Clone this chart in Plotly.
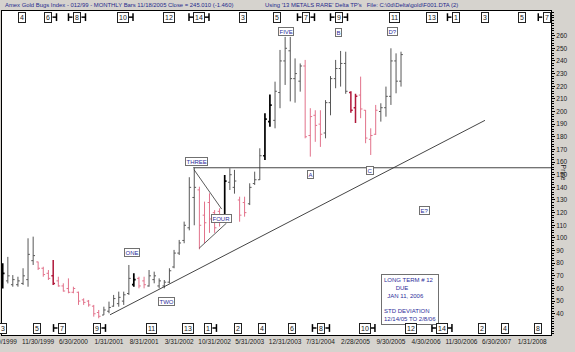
import pandas as pd
import plotly.graph_objects as go

# ---------------- data ----------------
start_month = "1999-04-30"          # first monthly bar (month-end)
open_ = [64, 66, 63, 63, 64, 67, 82, 81, 76, 72,
         70, 66, 62, 60, 57, 57, 51, 50, 46, 41,
         39, 42, 46, 48, 50, 56, 63, 68, 66, 62,
         67, 62, 62, 65, 77, 88, 98, 108, 132, 138,
         118, 128, 120, 121, 116, 144, 140, 130, 128, 127,
         143, 146, 165, 192, 193, 215, 240, 248, 226, 224,
         236, 181, 197, 190, 183, 207, 226, 234, 238, 215,
         203, 213, 201, 178, 182, 200, 203, 212, 240, 224]
high = [80, 85, 70.6, 69.3, 76, 99.7, 101, 81.2, 77.2, 74.6,
        82.5, 69.3, 64.1, 68, 61.4, 57.5, 52.2, 50.9, 47, 43,
        45.6, 49.6, 54.9, 57.5, 57.5, 78.6, 72, 69.3, 69.3, 74.6,
        73.3, 68, 66.7, 76, 90.5, 98.4, 112.9, 148, 155.5, 140.5,
        128.7, 135.3, 122, 123.4, 149.8, 155.1, 153.8, 132.6, 132.6, 143.2,
        152.4, 170.9, 198.6, 213.5, 223.6, 248.7, 259, 259, 242, 238,
        240.8, 202.6, 201, 201, 209, 228, 240.8, 247.9, 247.3, 216,
        214, 227.6, 201.2, 186.7, 205.2, 206.5, 219.7, 250, 246, 247.3]
low = [60, 64, 61.4, 61.4, 62.8, 61.4, 78.6, 74.6, 69.3, 66.7,
       62.8, 61.4, 57.5, 56.2, 56.2, 47, 47, 45.6, 37.7, 36.4,
       39, 40.4, 45.6, 45.6, 47, 54.9, 61.4, 60.1, 60.1, 61.4,
       64.1, 60.1, 60.1, 64.1, 76, 86.5, 95.8, 106, 110, 91,
       96, 104, 104, 109, 114.2, 137.9, 135, 112.8, 116.8, 126,
       141.9, 145.8, 161.7, 188, 186.7, 202.6, 221, 208, 207, 215.7,
       178.8, 164.3, 176, 172, 178.8, 197, 218.4, 219.7, 214, 199,
       191, 194.7, 174.9, 165.6, 181.4, 192, 195.9, 205.2, 214.4, 219.7]
close = [72, 70, 67, 66, 70, 87, 86, 76, 71, 68,
         64, 62, 58, 57, 60, 50, 49, 47, 40, 38,
         43, 45, 52, 53, 55, 68, 67, 62, 63, 70,
         70, 66, 65, 74, 88, 96, 110, 140, 140, 110,
         112, 115, 108, 113, 145, 150, 145, 118, 120, 140,
         146, 165, 194, 205, 216, 240, 250, 226, 230, 236,
         180, 196, 189, 182, 207, 226, 234, 238, 216, 201,
         212, 202, 179, 181, 201, 203, 212, 240, 224, 245.01]
# Delta phase of each bar (up / down, * = turning bar)
phase = (["U*"] + ["U"] * 6 + ["D"] * 3 + ["D*"] + ["D"] * 9 + ["U"] * 6 + ["U*"]
         + ["D"] * 2 + ["U"] * 10 + ["D"] * 5 + ["U*"] + ["U"] * 2 + ["D"] * 2
         + ["U"] * 3 + ["U*"] * 2 + ["U"] * 6 + ["D"] * 4 + ["U"] * 5 + ["D*"] * 2
         + ["D"] * 4 + ["U"] * 5)

tick_labels = ["4/30/1999", "11/30/1999", "6/30/2000", "1/31/2001", "8/31/2001",
               "3/31/2002", "10/31/2002", "5/31/2003", "12/31/2003", "7/31/2004",
               "2/28/2005", "9/30/2005", "4/30/2006", "11/30/2006", "6/30/2007",
               "1/31/2008"]
price_ticks = list(range(40, 261, 10))

# Delta turning-point cycle labels (month offsets from first bar)
top_cycle = ["4", "6", "8", "10", "12", "14", "3", "5", "7", "9", "11", "13", "1", "3", "5", "7"]
top_cycle_m = [3.83, 8.99, 14.74, 23.87, 33.0, 38.95, 47.68, 54.42, 60.18, 66.73,
               77.84, 85.2, 89.94, 95.7, 103.0, 107.96]
top_cycle_br = ["", "R", "LR", "R", "", "LR", "", "", "LR", "LR", "", "", "L", "", "", "L"]
bot_cycle = ["3", "5", "7", "9", "11", "13", "1", "2", "4", "6", "8", "10", "12", "14", "2", "4", "8"]
bot_cycle_m = [0.06, 6.8, 11.77, 18.71, 29.6, 36.77, 40.73, 46.69, 51.45, 57.4,
               63.15, 71.88, 81.0, 87.16, 95.1, 99.66, 106.2]
bot_cycle_br = ["", "", "L", "R", "", "", "R", "", "", "", "LR", "R", "", "LR", "", "", ""]

wave_labels = ["ONE", "TWO", "THREE", "FOUR", "FIVE", "A", "B", "C", "D?", "E?"]
wave_m = [25.65, 32.5, 38.4, 43.5, 56.2, 61.0, 66.7, 72.9, 77.4, 83.6]
wave_p = [88.2, 49.7, 160.2, 115.3, 263.2, 149.9, 262.4, 153.0, 263.2, 121.4]

trend_m = [21.3, 95.7]
trend_p = [39.2, 193.0]
level_m = [37.8, 108.8]
level_p = [155.5, 155.5]
wedge_up_m = [37.96, 43.45]
wedge_up_p = [154.0, 122.8]
wedge_lo_m = [39.0, 44.4]
wedge_lo_p = [91.9, 111.7]

# ---------------- helpers ----------------
base = pd.Timestamp(start_month)
dates = [(pd.Timestamp("1999-04-01") + pd.DateOffset(months=k) + pd.offsets.MonthEnd(0))
         for k in range(len(close))]


def at_month(m):
    return (base + pd.Timedelta(days=m * 30.44)).strftime("%Y-%m-%d %H:%M")


tick_vals = [pd.to_datetime(t, format="%m/%d/%Y").strftime("%Y-%m-%d") for t in tick_labels]

fig = go.Figure()

styles = {"U": ("#575757", 1), "U*": ("#000000", 1.7), "D": ("#e2728b", 1), "D*": ("#b0183a", 1.5)}
for key, (col, w) in styles.items():
    idx = [i for i, p in enumerate(phase) if p == key]
    fig.add_trace(go.Ohlc(
        x=[dates[i] for i in idx], open=[open_[i] for i in idx], high=[high[i] for i in idx],
        low=[low[i] for i in idx], close=[close[i] for i in idx],
        increasing=dict(line=dict(color=col, width=w)),
        decreasing=dict(line=dict(color=col, width=w)),
        tickwidth=0.4, showlegend=False, hoverinfo="skip"))

for mm, pp, w in [(trend_m, trend_p, 0.9), (level_m, level_p, 0.9),
                  (wedge_up_m, wedge_up_p, 0.8), (wedge_lo_m, wedge_lo_p, 0.8)]:
    fig.add_trace(go.Scatter(x=[at_month(m) for m in mm], y=pp, mode="lines",
                             line=dict(color="#303030", width=w), showlegend=False,
                             hoverinfo="skip"))

annotations = []
shapes = []
LBL = dict(family="Liberation Sans", size=6, color="#2e2e9a")
for t, m, p in zip(wave_labels, wave_m, wave_p):
    annotations.append(dict(x=at_month(m), y=p, xref="x", yref="y", text=t, showarrow=False,
                            font=LBL, bgcolor="white", bordercolor="#707070", borderwidth=1,
                            borderpad=0.5))

annotations.append(dict(
    x=at_month(80.8), y=51.1, xref="x", yref="y", showarrow=False, align="left",
    text=("LONG TERM # 12<br>\u00a0\u00a0\u00a0\u00a0\u00a0\u00a0\u00a0DUE<br>"
          "\u00a0\u00a0JAN 11, 2006<br> <br>STD DEVIATION<br>12/14/05 TO 2/8/06"),
    font=dict(family="Liberation Sans", size=6, color="#2e2e9a"),
    bgcolor="white", bordercolor="#707070", borderwidth=1, borderpad=2))

CYC = dict(family="Liberation Sans", size=7, color="#202020")


def cycle_row(labels, offs, brs, yp):
    for lab, m, br in zip(labels, offs, brs):
        xd = at_month(m)
        annotations.append(dict(x=xd, y=yp, xref="x", yref="paper", text=lab, showarrow=False,
                                font=CYC, bgcolor="white", bordercolor="#202020",
                                borderwidth=1, borderpad=1, xanchor="center", yanchor="middle"))
        half = 4.5 if len(lab) == 1 else 6
        for side in br:
            s = -1 if side == "L" else 1
            shapes.append(dict(type="line", xref="x", xsizemode="pixel", xanchor=xd,
                               x0=s * half, x1=s * (half + 4), yref="paper", y0=yp, y1=yp,
                               line=dict(color="#000", width=1.5)))
            shapes.append(dict(type="line", xref="x", xsizemode="pixel", xanchor=xd,
                               x0=s * (half + 4), x1=s * (half + 4), yref="paper",
                               y0=yp - 0.012, y1=yp + 0.012, line=dict(color="#000", width=1.5)))


cycle_row(top_cycle, top_cycle_m, top_cycle_br, 0.981)
cycle_row(bot_cycle, bot_cycle_m, bot_cycle_br, 0.0216)

TICKF = dict(family="Liberation Sans", size=6.5, color="#202020")
# first date label sits on the left page edge (partly cut off in the original)
annotations.append(dict(x=tick_vals[0], y=-0.0216, xref="x", yref="paper", showarrow=False,
                        text=tick_labels[0], font=TICKF, xanchor="center", yanchor="middle"))

HDR = dict(family="Liberation Sans", size=5.9, color="#1f2a8c")
annotations.append(dict(x=0.002, y=1.0185, xref="paper", yref="paper", xanchor="left",
                        yanchor="middle", showarrow=False, font=HDR,
                        text="Amex Gold Bugs Index - 012/99 - MONTHLY Bars 11/18/2005 Close = 245.010 (-1.460)"))
annotations.append(dict(x=0.475, y=1.0185, xref="paper", yref="paper", xanchor="left",
                        yanchor="middle", showarrow=False, font=HDR,
                        text="Using '13 METALS RARE' Delta TP's \u00a0\u00a0File: C:\\0d\\Delta\\gold\\F001.DTA (2)"))
annotations.append(dict(x=1.0346, y=0.5, xref="paper", yref="paper", showarrow=False,
                        text="Price", textangle=90,
                        font=dict(family="Liberation Sans", size=7, color="#202020")))

fig.update_layout(
    width=575, height=352,
    margin=dict(l=2, r=24, t=11, b=17, autoexpand=False),
    paper_bgcolor="#d6d3ce", plot_bgcolor="white",
    annotations=annotations, shapes=shapes,
    xaxis=dict(type="date", range=[at_month(-0.14), at_month(108.8)],
               tickvals=tick_vals[1:], ticktext=tick_labels[1:], showgrid=False,
               showline=True, linecolor="#000", linewidth=1, mirror=True,
               ticks="", automargin=False, tickfont=TICKF,
               rangeslider=dict(visible=False), zeroline=False),
    yaxis=dict(side="right", range=[23.2, 279.5], tickvals=price_ticks, showgrid=False,
               showline=True, linecolor="#000", linewidth=1, mirror=True,
               ticks="outside", ticklen=3, tickcolor="#000", automargin=False,
               minor=dict(dtick=2, ticks="outside", ticklen=1.5, tickcolor="#000"),
               tickfont=dict(family="Liberation Sans", size=6.5, color="#202020"),
               zeroline=False),
)

fig.write_html("out.html")
